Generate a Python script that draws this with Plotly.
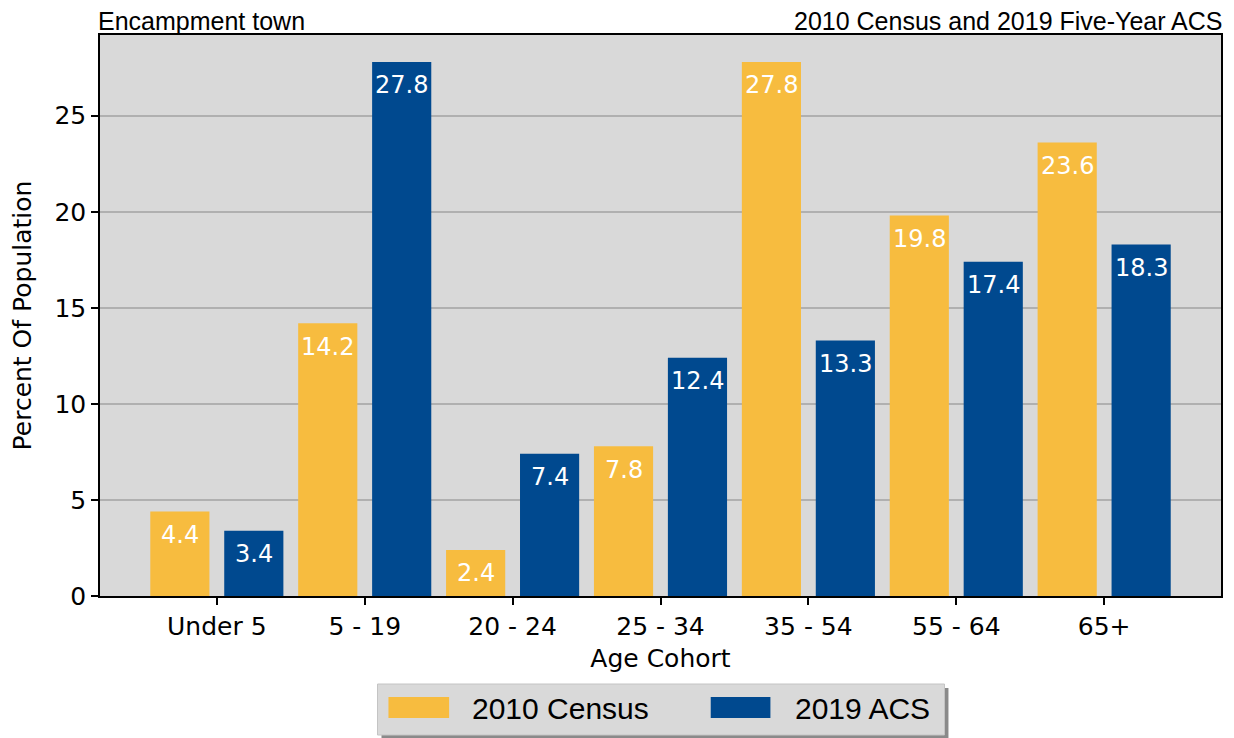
import plotly.graph_objects as go

categories = ["Under 5", "5 - 19", "20 - 24", "25 - 34", "35 - 54", "55 - 64", "65+"]
census_2010 = [4.4, 14.2, 2.4, 7.8, 27.8, 19.8, 23.6]
acs_2019 = [3.4, 27.8, 7.4, 12.4, 13.3, 17.4, 18.3]
series_names = ["2010 Census", "2019 ACS"]
colors = ["#f7bc3f", "#00498f"]

xpos = list(range(len(categories)))

# page body has an 8px margin; compensate so the picture lands on the window
OFF = 8
W, H = 1234 - OFF, 738 - OFF
L, R, T, B = 96 - OFF, 11, 35 - OFF, 142
pw, ph = W - L - R, H - T - B


def px_x(p):
    return (p - OFF - L) / pw


def px_y(p):
    return (H - B - (p - OFF)) / ph


fig = go.Figure()
for vals, name, col, off in [(census_2010, series_names[0], colors[0], -0.45),
                             (acs_2019, series_names[1], colors[1], 0.05)]:
    fig.add_trace(go.Bar(x=xpos, y=vals, name=name, marker_color=col,
                         marker_line_width=0, width=0.4, offset=off,
                         showlegend=False))

annotations = []
for vals, dx in [(census_2010, -0.25), (acs_2019, 0.25)]:
    for i, v in enumerate(vals):
        annotations.append(dict(x=i + dx, y=v - 1.22, xref="x", yref="y",
                                text=f"{v:.1f}", showarrow=False,
                                font=dict(family="DejaVu Sans", size=24, color="white"),
                                xanchor="center", yanchor="middle"))

annotations.append(dict(x=0, y=1, xref="paper", yref="paper", text="Encampment town",
                        showarrow=False, xanchor="left", yanchor="bottom", yshift=-2,
                        xshift=-4,
                        font=dict(family="Liberation Sans", size=25, color="black")))
annotations.append(dict(x=1, y=1, xref="paper", yref="paper",
                        text="2010 Census and 2019 Five-Year ACS",
                        showarrow=False, xanchor="right", yanchor="bottom", yshift=-2,
                        xshift=4,
                        font=dict(family="Liberation Sans", size=25, color="black")))

# manual legend
shapes = []
bx0, bx1, by0, by1 = 375, 945, 684, 735
shapes.append(dict(type="rect", xref="paper", yref="paper",
                   x0=px_x(bx0 + 4), x1=px_x(bx1 + 4), y0=px_y(by1 + 4), y1=px_y(by0 + 4),
                   fillcolor="#8a8a8a", line=dict(width=0), layer="above"))
shapes.append(dict(type="rect", xref="paper", yref="paper",
                   x0=px_x(bx0), x1=px_x(bx1), y0=px_y(by1), y1=px_y(by0),
                   fillcolor="#d9d9d9", line=dict(color="#c4c4c4", width=1), layer="above"))
legend_items = [(386, 447, 468), (710, 770, 793)]
for (sx0, sx1, tx), name, col in zip(legend_items, series_names, colors):
    shapes.append(dict(type="rect", xref="paper", yref="paper",
                       x0=px_x(sx0), x1=px_x(sx1), y0=px_y(718), y1=px_y(697),
                       fillcolor=col, line=dict(width=0), layer="above"))
    annotations.append(dict(x=px_x(tx), y=px_y(708), xref="paper", yref="paper",
                            text=name, showarrow=False, xanchor="left", yanchor="middle",
                            font=dict(family="Liberation Sans", size=30, color="black")))

fig.update_layout(
    width=W, height=H,
    margin=dict(l=L, r=R, t=T, b=B, pad=0),
    paper_bgcolor="white",
    plot_bgcolor="#d9d9d9",
    barmode="overlay",
    annotations=annotations,
    shapes=shapes,
    showlegend=False,
    xaxis=dict(range=[-0.79, 6.79], tickmode="array", tickvals=xpos, ticktext=categories,
               showgrid=False, zeroline=False, showline=True, linecolor="black",
               linewidth=1.5, mirror=True, ticks="outside", ticklen=7, tickwidth=1.5,
               tickcolor="black",
               tickfont=dict(family="DejaVu Sans", size=25, color="black"),
               title=dict(text="Age Cohort", standoff=10,
                          font=dict(family="DejaVu Sans", size=25, color="black"))),
    yaxis=dict(range=[0, 29.2], tickvals=[0, 5, 10, 15, 20, 25],
               showgrid=True, gridcolor="#b0b0b0", gridwidth=1.5, zeroline=False,
               showline=True, linecolor="black", linewidth=1.5, mirror=True,
               ticks="outside", ticklen=7, tickwidth=1.5, tickcolor="black",
               tickfont=dict(family="DejaVu Sans", size=25, color="black"),
               title=dict(text="Percent Of Population", standoff=18,
                          font=dict(family="DejaVu Sans", size=25, color="black"))),
)

fig.write_html("out.html")
